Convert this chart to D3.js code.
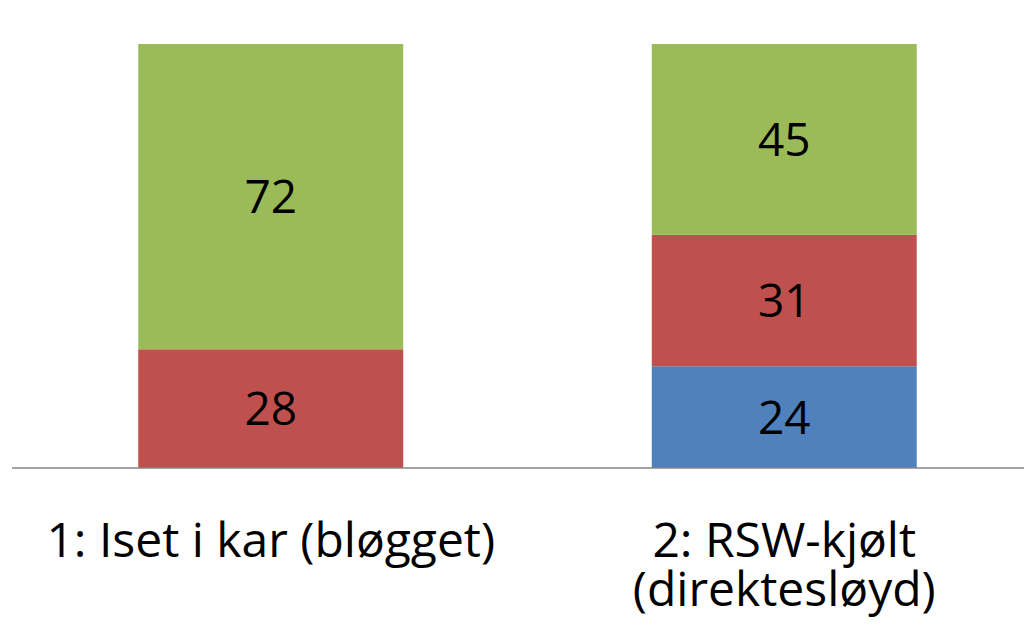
<!DOCTYPE html>
<html>
<head>
<meta charset="utf-8">
<script src="https://cdn.jsdelivr.net/npm/d3@7"></script>
<style>
  body { margin: 0; background: #fff; }
  svg { display: block; font-family: "Open Sans", Lato, sans-serif; }
</style>
</head>
<body>
<div class="container"></div>
<script>
const WIDTH = 1024;
const HEIGHT = 632;

// data (percent shares, stacked bottom to top)
var categories = ['1: Iset i kar (bløgget)', '2: RSW-kjølt (direktesløyd)'];
var seriesKeys = ['blaa', 'roed', 'groenn'];
var blaa = [0, 24];
var roed = [28, 31];
var groenn = [72, 45];
var colors = ['#4F81BD', '#C0504D', '#9BBB59'];

var rows = categories.map(function(c, i) {
	return { cat: c, blaa: blaa[i], roed: roed[i], groenn: groenn[i] };
});

var _svg, _xScale, _yScale;

var createChart = function() {
	_svg = d3.select('.container').append('svg')
		.attr('width', WIDTH)
		.attr('height', HEIGHT);

	_xScale = d3.scaleBand()
		.domain(categories)
		.range([14, 1041])
		.paddingInner(0.484)
		.paddingOuter(0.242);

	_yScale = d3.scaleLinear()
		.domain([0, 100])
		.range([468, 44]);

	var stack = d3.stack().keys(seriesKeys);
	var layers = stack(rows);

	var g = _svg.selectAll('g.layer')
		.data(layers)
		.enter().append('g')
		.attr('class', 'layer')
		.attr('fill', function(d, i) { return colors[i]; });

	g.selectAll('rect')
		.data(function(d) { return d; })
		.enter().append('rect')
		.attr('x', function(d) { return _xScale(d.data.cat); })
		.attr('y', function(d) { return _yScale(d[1]); })
		.attr('height', function(d) { return _yScale(d[0]) - _yScale(d[1]); })
		.attr('width', _xScale.bandwidth());

	// value labels inside segments
	layers.forEach(function(layer) {
		_svg.append('g').selectAll('text')
			.data(layer.filter(function(d) { return d[1] - d[0] > 0; }))
			.enter().append('text')
			.attr('x', function(d) { return _xScale(d.data.cat) + _xScale.bandwidth() / 2; })
			.attr('y', function(d) { return (_yScale(d[0]) + _yScale(d[1])) / 2; })
			.attr('dy', '0.36em')
			.attr('text-anchor', 'middle')
			.attr('font-size', 46)
			.attr('fill', '#000')
			.text(function(d) { return d[1] - d[0]; });
	});

	var xAxis = d3.axisBottom(_xScale).tickSize(0).tickSizeOuter(0).tickPadding(0);

	var ax = _svg.append('g')
		.attr('transform', 'translate(0,468)')
		.call(xAxis);

	ax.select('.domain')
		.attr('stroke', '#868686')
		.attr('stroke-width', 1.5)
		.attr('d', 'M12,0H1024');

	ax.selectAll('.tick text')
		.attr('font-size', 48)
		.attr('font-family', '"Open Sans", Lato, sans-serif')
		.attr('fill', '#000')
		.call(wrap, _xScale.step() - 20);
};

function wrap(texts, width) {
	texts.each(function() {
		var text = d3.select(this);
		var words = text.text().split(/\s+/);
		text.text(null).attr('dy', null).attr('y', null);
		var line = [];
		var lineNo = 0;
		var tspan = text.append('tspan').attr('x', 0).attr('y', 89);
		words.forEach(function(w) {
			line.push(w);
			tspan.text(line.join(' '));
			if (tspan.node().getComputedTextLength() > width && line.length > 1) {
				line.pop();
				tspan.text(line.join(' '));
				line = [w];
				lineNo++;
				tspan = text.append('tspan').attr('x', 0).attr('y', 89 + lineNo * 49).text(w);
			}
		});
	});
}

window.onLoad = createChart();
</script>
</body>
</html>
